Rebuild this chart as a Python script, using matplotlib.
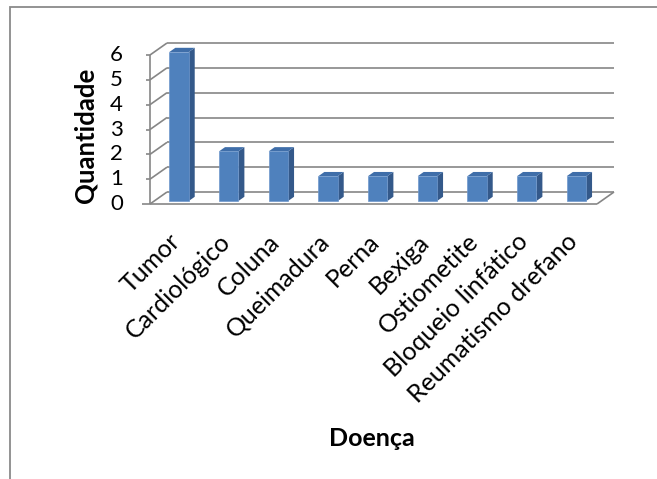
import matplotlib
matplotlib.use("Agg")
import matplotlib.pyplot as plt
from matplotlib.patches import Polygon, Rectangle
from matplotlib.transforms import offset_copy

plt.rcParams['font.family'] = ['Lato', 'DejaVu Sans']

categories = ["Tumor", "Cardiológico", "Coluna", "Queimadura", "Perna",
              "Bexiga", "Ostiometite", "Bloqueio linfático", "Reumatismo drefano"]
values = [6, 2, 2, 1, 1, 1, 1, 1, 1]
y_ticks = [0, 1, 2, 3, 4, 5, 6]
x_title = "Doença"
y_title = "Quantidade"

W, H, DPI = 657, 479, 100
fig = plt.figure(figsize=(W / DPI, H / DPI), dpi=DPI)
fig.patch.set_facecolor("white")

# outer chart border (only top and left edges fall inside the image)
fig.patches.append(Rectangle((10 / W, -0.1), 1.2, (H - 7) / H + 0.1,
                             transform=fig.transFigure, fill=False,
                             edgecolor="#8a8a8a", linewidth=1.3))

# plot area: front plane of the 3D box
x0, x1 = 150, 597
yb, yt = 204, 55
ax = fig.add_axes([x0 / W, (H - yb) / H, (x1 - x0) / W, (yb - yt) / H])
n = len(categories)
ymax = max(y_ticks)
ax.set_xlim(0, n)
ax.set_ylim(0, ymax)
ax.axis("off")

# oblique depth offset, in data units
dx = 17 / ((x1 - x0) / n)
dy = 12 / ((yb - yt) / ymax)

grid_kw = dict(color="#868686", linewidth=1.2, clip_on=False, solid_capstyle="butt")

# back wall gridlines and left wall diagonals
for k in y_ticks:
    ax.plot([dx, n + dx], [k + dy, k + dy], **grid_kw)
    ax.plot([0, dx], [k, k + dy], **grid_kw)
# floor edges
ax.plot([0, n], [0, 0], **grid_kw)
ax.plot([n, n + dx], [0, dy], **grid_kw)
# front vertical axis
ax.plot([0, 0], [0, ymax], **grid_kw)

# tick marks on the vertical axis
px_x = n / (x1 - x0)
for k in y_ticks:
    length = 8 if k == 0 else 4
    ax.plot([-length * px_x, 0], [k, k], **grid_kw)

# bars
front_c, side_c, top_c = "#4f81bd", "#34598a", "#3f6ea9"
bw = 0.39
f0, f1 = 0.25, 0.60
for i, v in enumerate(values):
    cx = i + 0.5
    xl = cx - bw / 2 + f0 * dx
    xr = cx + bw / 2 + f0 * dx
    yl = f0 * dy
    ddx = (f1 - f0) * dx
    ddy = (f1 - f0) * dy
    side = Polygon([(xr, yl), (xr + ddx, yl + ddy), (xr + ddx, yl + v + ddy), (xr, yl + v)],
                   closed=True, facecolor=side_c, edgecolor="none", clip_on=False, zorder=3)
    top = Polygon([(xl, yl + v), (xr, yl + v), (xr + ddx, yl + v + ddy), (xl + ddx, yl + v + ddy)],
                  closed=True, facecolor=top_c, edgecolor="none", clip_on=False, zorder=3)
    front = Polygon([(xl, yl), (xr, yl), (xr, yl + v), (xl, yl + v)],
                    closed=True, facecolor=front_c, edgecolor="#6f98cc", linewidth=0.5,
                    clip_on=False, zorder=4)
    for p in (side, top, front):
        ax.add_patch(p)

# y tick labels
ytr = offset_copy(ax.transData, fig=fig, x=-27, y=0, units="dots")
for k in y_ticks:
    ax.text(0, k, str(k), transform=ytr, ha="right", va="center",
            fontsize=16, color="black")

# category labels, rotated 45 degrees
xtr = offset_copy(ax.transData, fig=fig, x=2, y=-34, units="dots")
for i, c in enumerate(categories):
    ax.text(i + 0.5, 0, c, transform=xtr, rotation=45, rotation_mode="anchor",
            ha="right", va="center", fontsize=18, color="black")

# axis titles
fig.text(86 / W, 1 - 135 / H, y_title, rotation=90, ha="center", va="center",
         fontsize=18.5, fontweight="bold")
fig.text(372 / W, 1 - 438 / H, x_title, ha="center", va="center",
         fontsize=18, fontweight="bold")

fig.savefig("out.png", dpi=DPI, facecolor="white")
